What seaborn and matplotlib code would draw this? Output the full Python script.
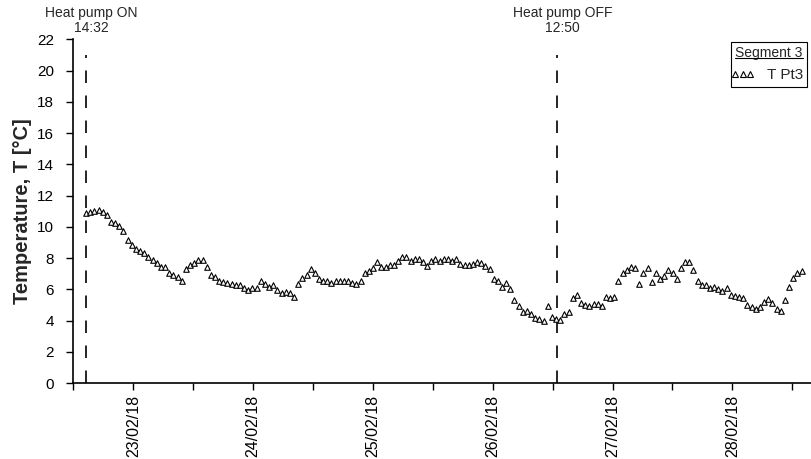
import matplotlib
matplotlib.use("Agg")
import matplotlib.pyplot as plt
import matplotlib.dates as mdates
from matplotlib.legend_handler import HandlerLine2D
from matplotlib.lines import Line2D
import pandas as pd
import seaborn as sns

# logger samples, every 50 min from heat pump ON
START = "2018-02-22 14:32"
STEP = "50min"
temp_pt3 = [
    10.86, 10.97, 11.03, 11.08, 10.93, 10.75, 10.33, 10.22, 10.06, 9.76,
    9.17, 8.84, 8.57, 8.48, 8.31, 8.10, 7.89, 7.67, 7.45, 7.45,
    7.03, 6.93, 6.78, 6.54, 7.29, 7.56, 7.67, 7.89, 7.89, 7.45,
    6.93, 6.78, 6.56, 6.49, 6.43, 6.35, 6.29, 6.29, 6.07, 5.96,
    6.07, 6.07, 6.56, 6.35, 6.18, 6.29, 5.96, 5.76, 5.85, 5.80,
    5.54, 6.35, 6.76, 6.93, 7.29, 7.03, 6.65, 6.56, 6.56, 6.43,
    6.56, 6.56, 6.56, 6.56, 6.43, 6.35, 6.56, 7.03, 7.20, 7.35,
    7.78, 7.45, 7.45, 7.56, 7.56, 7.84, 8.10, 8.10, 7.84, 7.97,
    7.97, 7.78, 7.52, 7.84, 7.97, 7.84, 7.97, 7.97, 7.84, 7.97,
    7.62, 7.56, 7.56, 7.62, 7.78, 7.67, 7.49, 7.33, 6.67, 6.56,
    6.14, 6.43, 6.03, 5.32, 4.94, 4.54, 4.65, 4.43, 4.15, 4.11,
    3.99, 4.96, 4.26, 4.11, 4.03, 4.45, 4.57, 5.43, 5.67, 5.14,
    5.01, 4.94, 5.04, 5.04, 4.94, 5.54, 5.43, 5.54, 6.54, 7.03,
    7.27, 7.45, 7.34, 6.34, 7.03, 7.34, 6.45, 7.03, 6.66, 6.84,
    7.24, 7.05, 6.67, 7.34, 7.78, 7.78, 7.24, 6.56, 6.31, 6.27,
    6.07, 6.14, 6.03, 5.92, 6.07, 5.65, 5.58, 5.54, 5.43, 5.03,
    4.90, 4.77, 4.86, 5.22, 5.37, 5.12, 4.73, 4.65, 5.32, 6.13,
    6.75, 7.03, 7.16,
]
event_times = ["2018-02-22 14:32", "2018-02-26 12:50"]
event_labels = ["Heat pump ON\n14:32", "Heat pump OFF\n12:50"]
y_ticks = list(range(0, 23, 2))
x_start = "2018-02-22 12:00"
x_end = "2018-02-28 15:58"

sns.set_theme(style="ticks")
plt.rcParams["font.family"] = ["Liberation Sans", "DejaVu Sans"]
plt.rcParams["axes.edgecolor"] = "black"
plt.rcParams["xtick.color"] = "black"
plt.rcParams["ytick.color"] = "black"

df = pd.DataFrame({
    "time": pd.date_range(START, periods=len(temp_pt3), freq=STEP),
    "T": temp_pt3,
})

fig = plt.figure(figsize=(8.12, 4.59), dpi=100)
ax = fig.add_axes([0.0904, 0.165, 0.9096, 0.7495])

sns.scatterplot(data=df, x="time", y="T", marker="^", s=16, color="white",
                edgecolor="black", linewidth=0.8, ax=ax, zorder=3, legend=False)

for t, txt in zip(event_times, event_labels):
    tn = mdates.date2num(pd.Timestamp(t))
    ax.plot([tn, tn], [21.0, 0], color="black", lw=1.2,
            linestyle=(5.7, (7.5, 7.5)), zorder=2)
    ax.annotate(txt, xy=(tn, 1.0), xycoords=("data", "axes fraction"),
                xytext=(4, 3), textcoords="offset points", ha="center", va="bottom",
                fontsize=10, linespacing=1.1, annotation_clip=False)

ax.set_xlim(mdates.date2num(pd.Timestamp(x_start)), mdates.date2num(pd.Timestamp(x_end)))
ax.set_ylim(0, 22)
ax.set_yticks(y_ticks)
ax.xaxis.set_major_locator(mdates.DayLocator())
ax.xaxis.set_major_formatter(mdates.DateFormatter("%d/%m/%y"))
ax.xaxis.set_minor_locator(mdates.HourLocator(byhour=[12]))
ax.tick_params(axis="x", which="both", length=5, width=1, pad=3.5, labelsize=11.5, labelrotation=90)
ax.tick_params(axis="y", length=5, width=1, pad=9, labelsize=11)

ax.set_xlabel("")
ax.set_ylabel("Temperature, T [°C]", fontsize=14.5, fontweight="bold")
ax.yaxis.set_label_coords(-0.056, 0.5)
sns.despine(ax=ax)
for s in ["left", "bottom"]:
    ax.spines[s].set_linewidth(1.2)

handle = Line2D([], [], marker="^", linestyle="none", markersize=4.2,
                markerfacecolor="white", markeredgecolor="black", markeredgewidth=0.8)
leg = ax.legend(handles=[handle], labels=["T Pt3"], title="Segment 3", loc="upper left",
                bbox_to_anchor=(730.7 / 812, 1 - 41.7 / 459), bbox_transform=fig.transFigure,
                handler_map={handle: HandlerLine2D(numpoints=3, marker_pad=0)},
                frameon=True, fancybox=False, edgecolor="black", framealpha=1,
                fontsize=11, title_fontsize=10, borderpad=0.3, labelspacing=0.5,
                handlelength=0.95, handletextpad=1.1, borderaxespad=0)
leg.get_frame().set_linewidth(0.8)

# underline the legend title
fig.canvas.draw()
bb = leg.get_title().get_window_extent().transformed(fig.transFigure.inverted())
fig.add_artist(Line2D([bb.x0, bb.x1], [bb.y0 + 0.004, bb.y0 + 0.004],
                      transform=fig.transFigure, color="black", lw=0.8))

fig.savefig("out.png", dpi=100)
